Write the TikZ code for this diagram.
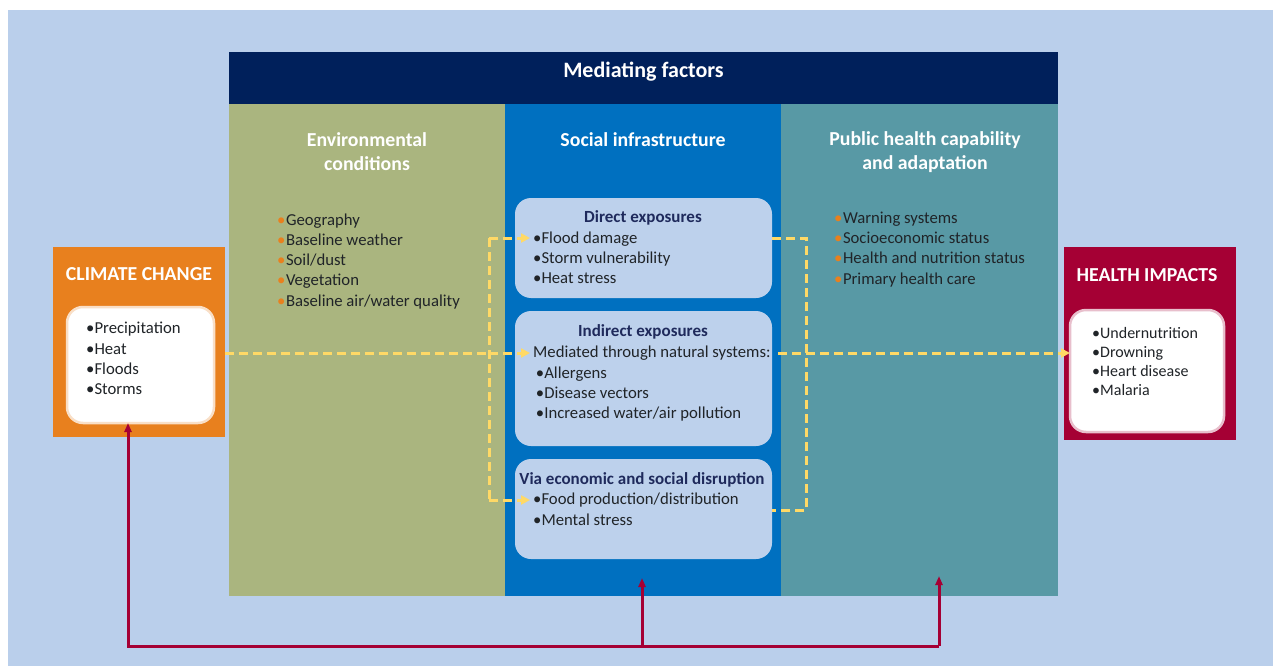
\documentclass[tikz,border=0pt]{standalone}
\usepackage{fontspec}
\setmainfont{Carlito}
\usetikzlibrary{arrows.meta}
\definecolor{bgblue}{HTML}{BACFEB}
\definecolor{navy}{HTML}{00205B}
\definecolor{envc}{HTML}{AAB57F}
\definecolor{socc}{HTML}{0070C0}
\definecolor{pubc}{HTML}{5899A5}
\definecolor{subc}{HTML}{BDD1EC}
\definecolor{orc}{HTML}{E8801E}
\definecolor{crim}{HTML}{A50034}
\definecolor{yel}{HTML}{FFD966}
\definecolor{txt}{HTML}{202428}
\definecolor{subhd}{HTML}{1F2A5C}
\begin{document}
\begin{tikzpicture}[x=1pt,y=-1pt,
  blk/.style={anchor=north west, inner sep=0, outer sep=0},
  whitebox/.style={blk, fill=white, rounded corners=16, draw=white!75!#1, line width=2.5},
  subbox/.style={blk, fill=subc, rounded corners=16, minimum width=257},
  hdtext/.style={text=white, font=\fontsize{19.8}{24}\selectfont\bfseries, align=center, inner sep=0},
  bigtext/.style={text=white, font=\fontsize{22}{24}\selectfont\bfseries, inner sep=0},
  subhead/.style={text=subhd, font=\fontsize{17}{20}\selectfont\bfseries, inner sep=0},
  list/.style={text=txt, font=\fontsize{16.7}{20.2}\selectfont, align=left, anchor=base west, inner sep=0},
  ydash/.style={draw=yel, line width=3, dash pattern=on 9pt off 5pt},
  yarrow/.style={ydash, -{Triangle[length=9,width=9]}},
  crline/.style={draw=crim, line width=3},
  crarrow/.style={crline, -{Triangle[length=9,width=7]}}
]
\useasboundingbox (0,0) rectangle (1273,666);
\fill[white] (0,0) rectangle (1273,666);
\fill[bgblue] (8,10) rectangle (1273,666);

% mediating factors block
\node[blk, fill=navy, minimum width=829, minimum height=52] (hdr) at (229,52) {};
\node[blk, fill=envc, minimum width=276, minimum height=492] (env) at (229,104) {};
\node[blk, fill=socc, minimum width=276, minimum height=492] (soc) at (505,104) {};
\node[blk, fill=pubc, minimum width=277, minimum height=492] (pub) at (781,104) {};

\node[bigtext] (hdrt) at (643.5,72) {Mediating factors};
\node[hdtext] (envt) at (367,152) {Environmental\\conditions};
\node[hdtext] (soct) at (643,140) {Social infrastructure};
\node[hdtext] (pubt) at (925,152) {Public health capability\\and adaptation};

\newcommand{\ob}{{\color{orc}•\kern0.5pt}}
% list nodes are placed at the baseline of their last line
\node[list] (envl) at (277,306) {\ob Geography\\\ob Baseline weather\\\ob Soil/dust\\\ob Vegetation\\\ob Baseline air/water quality};
\node[list] (publ) at (834,284) {\ob Warning systems\\\ob Socioeconomic  status\\\ob Health and nutrition status\\\ob Primary health care};

% sub boxes
\node[subbox, minimum height=100] (dir) at (515,198) {};
\node[subbox, minimum height=135] (ind) at (515,311) {};
\node[subbox, minimum height=100] (via) at (515,459) {};

\node[subhead] (dirt) at (643,218) {Direct exposures};
\node[list] (dirl) at (533,283.5) {•Flood  damage\\•Storm  vulnerability\\•Heat stress};
\node[subhead] (indt) at (643,332) {Indirect exposures};
\node[list] (indl) at (533,418.5) {Mediated through  natural systems:\\\,•Allergens\\\,•Disease vectors\\\,•Increased water/air pollution};
\node[subhead] (viat) at (642,480) {Via economic and social disruption};
\node[list] (vial) at (533,525) {•Food production/distribution\\•Mental stress};

% climate change
\node[blk, fill=orc, minimum width=172, minimum height=190] (cc) at (53,247) {};
\node[whitebox=orc, minimum width=147, minimum height=116] (ccin) at (67,307) {};
\node[hdtext] (cct) at (139,274) {CLIMATE CHANGE};
\node[list] (ccl) at (86,394.5) {•Precipitation\\•Heat\\•Floods\\•Storms};

% health impacts
\node[blk, fill=crim, minimum width=172, minimum height=193] (hi) at (1064,247) {};
\node[whitebox=crim, minimum width=154, minimum height=122] (hiin) at (1070,310) {};
\node[hdtext] (hit) at (1147,275) {HEALTH IMPACTS};
\node[list, font=\fontsize{16}{18.7}\selectfont] (hil) at (1092,395) {•Undernutrition\\•Drowning\\•Heart disease\\•Malaria};

% yellow dashed connectors
\coordinate (jl) at (489,353);
\coordinate (jtop) at (489,238);
\coordinate (jbot) at (489,500);
\coordinate (tdir) at (530,238);
\coordinate (tind) at (530,353);
\coordinate (tvia) at (530,500);
\coordinate (rtop) at (806,238);
\coordinate (rbot) at (806,510);
\draw[ydash] (cc.east |- jl) -- (jl);
\draw[ydash] (jtop) -- (jbot);
\draw[yarrow] (jl) -- (tind);
\draw[yarrow] (jtop) -- (tdir);
\draw[yarrow] (jbot) -- (tvia);
\draw[ydash] (dir.east |- rtop) -- (rtop) -- (rbot) -- (via.east |- rbot);
\draw[yarrow] ([xshift=6pt]ind.east |- jl) -- (hiin.west |- jl);

% crimson feedback connectors
\coordinate (b1) at (128,646);
\coordinate (b2) at (642,646);
\coordinate (b3) at (939,646);
\coordinate (t2) at (642,578);
\coordinate (t3) at (939,576);
\draw[crarrow] (b3) -- (b1) -- (ccin.south -| b1);
\draw[crarrow] (b2) -- (t2);
\draw[crarrow] (b3) -- (t3);
\end{tikzpicture}
\end{document}
